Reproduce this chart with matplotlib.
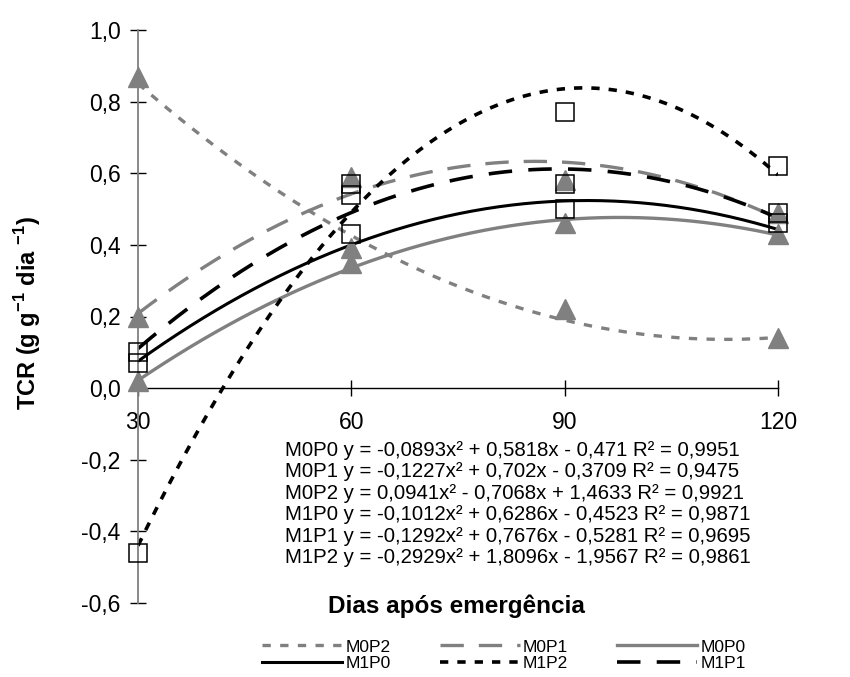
import numpy as np
import matplotlib
matplotlib.use('Agg')
import matplotlib.pyplot as plt

plt.rcParams['font.family'] = ['Liberation Sans', 'DejaVu Sans']
plt.rcParams['mathtext.fontset'] = 'custom'
plt.rcParams['mathtext.rm'] = 'Liberation Sans'
plt.rcParams['mathtext.bf'] = 'Liberation Sans:bold'

# days after emergence; the fitted equations use x = 1..4
days = [30, 60, 90, 120]
xpos = np.array([1, 2, 3, 4])

# observed TCR values
m0p0 = [0.02, 0.35, 0.46, 0.43]
m0p1 = [0.20, 0.59, 0.58, 0.49]
m0p2 = [0.87, 0.39, 0.22, 0.14]
m1p0 = [0.07, 0.43, 0.50, 0.46]
m1p1 = [0.10, 0.54, 0.57, 0.49]
m1p2 = [-0.46, 0.57, 0.77, 0.62]

# quadratic trendline coefficients (a, b, c) as printed on the chart
coef_m0p0 = [-0.0893, 0.5818, -0.471]
coef_m0p1 = [-0.1227, 0.702, -0.3709]
coef_m0p2 = [0.0941, -0.7068, 1.4633]
coef_m1p0 = [-0.1012, 0.6286, -0.4523]
coef_m1p1 = [-0.1292, 0.7676, -0.5281]
coef_m1p2 = [-0.2929, 1.8096, -1.9567]

eq_lines = [
    "M0P0 y = -0,0893x² + 0,5818x - 0,471 R² = 0,9951",
    "M0P1 y = -0,1227x² + 0,702x - 0,3709 R² = 0,9475",
    "M0P2 y = 0,0941x² - 0,7068x + 1,4633 R² = 0,9921",
    "M1P0 y = -0,1012x² + 0,6286x - 0,4523 R² = 0,9871",
    "M1P1 y = -0,1292x² + 0,7676x - 0,5281 R² = 0,9695",
    "M1P2 y = -0,2929x² + 1,8096x - 1,9567 R² = 0,9861",
]

gray = '#808080'

fig = plt.figure(figsize=(8.5, 6.77), dpi=100)
ax = fig.add_axes([138 / 850, 1 - 603 / 677, 640 / 850, 573 / 677])

xs = np.linspace(1, 4, 200)

# trendlines
lines = {}
lines['M0P2'], = ax.plot(xs, np.polyval(coef_m0p2, xs), color=gray, lw=2.4, dashes=(2.5, 2.8))
lines['M0P1'], = ax.plot(xs, np.polyval(coef_m0p1, xs), color=gray, lw=2.4, dashes=(7, 4.5))
lines['M0P0'], = ax.plot(xs, np.polyval(coef_m0p0, xs), color=gray, lw=2.4)
lines['M1P0'], = ax.plot(xs, np.polyval(coef_m1p0, xs), color='black', lw=2.2)
lines['M1P2'], = ax.plot(xs, np.polyval(coef_m1p2, xs), color='black', lw=2.6, dashes=(2.3, 2.5))
lines['M1P1'], = ax.plot(xs, np.polyval(coef_m1p1, xs), color='black', lw=2.6, dashes=(6.5, 4.5))

# observed points
for vals in [m0p0, m0p1, m0p2]:
    ax.plot(xpos, vals, '^', color=gray, ms=14, mec=gray, zorder=4, clip_on=False)
for vals in [m1p0, m1p1, m1p2]:
    ax.plot(xpos, vals, 's', ms=13, mfc='none', mec='black', mew=1.1, zorder=5, clip_on=False)

ax.set_xlim(1, 4)
ax.set_ylim(-0.6, 1.0)
ax.set_xticks(xpos)
ax.set_xticklabels([str(d) for d in days])
yt = np.arange(-0.6, 1.01, 0.2)
ax.set_yticks(yt)
ax.set_yticklabels([f"{v:.1f}".replace('.', ',').replace('-0,0', '0,0') for v in yt])

ax.spines['top'].set_visible(False)
ax.spines['right'].set_visible(False)
ax.spines['left'].set_color(gray)
ax.spines['left'].set_linewidth(1.3)
ax.spines['bottom'].set_position(('data', 0))
ax.spines['bottom'].set_color('black')
ax.spines['bottom'].set_linewidth(1.0)
ax.tick_params(axis='y', direction='inout', length=11, width=1.0, color='black', labelsize=16.5, pad=7)
ax.tick_params(axis='x', direction='inout', length=11, width=1.0, color='black', labelsize=16.5, pad=11)

fig.text(285 / 850, 1 - 441 / 677, "\n".join(eq_lines), ha='left', va='top',
         fontsize=14.7, linespacing=1.16)

fig.text(456 / 850, 1 - 606 / 677, "Dias após emergência", ha='center', va='center',
         fontsize=17.5, fontweight='bold')
fig.text(28 / 850, 1 - 313 / 677, r"TCR (g g$^{\mathbf{-1}}$ dia $^{\mathbf{-1}}$)",
         ha='center', va='center', rotation=90, fontsize=17, fontweight='bold')

order = ['M0P2', 'M1P0', 'M0P1', 'M1P2', 'M0P0', 'M1P1']
fig.legend([lines[k] for k in order], order, ncol=3, loc='center',
           bbox_to_anchor=(504 / 850, 1 - 655 / 677), frameon=False, fontsize=12.5,
           handlelength=4.6, handletextpad=0.2, columnspacing=2.8, labelspacing=0.05,
           borderpad=0)

fig.savefig('out.png', dpi=100)
